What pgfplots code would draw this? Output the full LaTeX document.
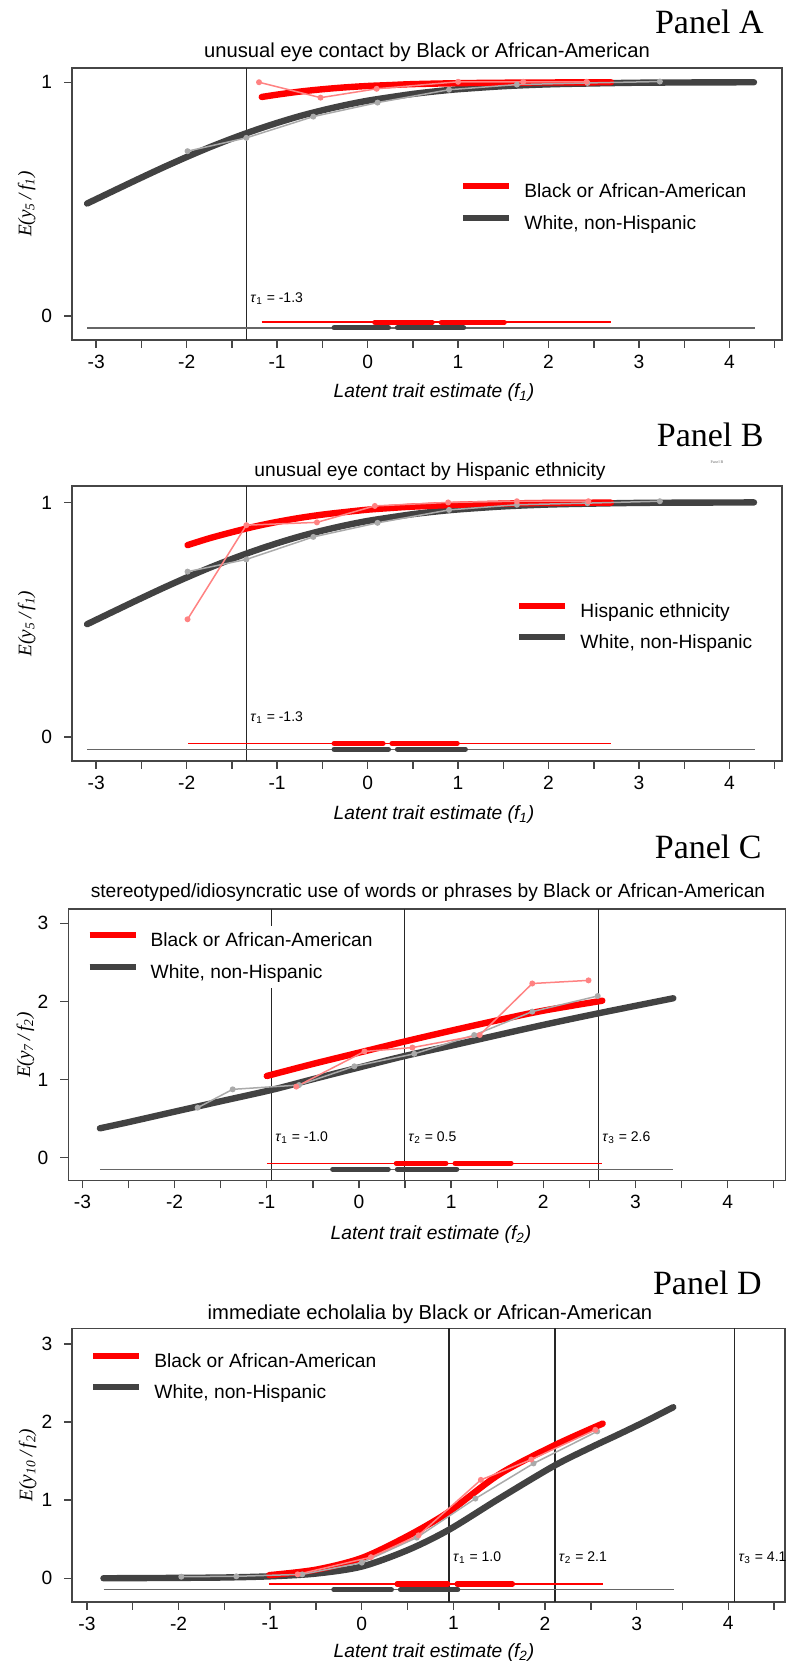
\documentclass[border=0pt]{standalone}
\usepackage{pgfplots}
\pgfplotsset{compat=1.18}
\usepackage{fontspec}
\setmainfont{Liberation Sans}
\newfontfamily\seriffam{Liberation Serif}
\definecolor{sred}{RGB}{255,0,0}
\definecolor{sdark}{RGB}{66,66,66}
\definecolor{lred}{RGB}{255,130,130}
\definecolor{lgray}{RGB}{170,170,170}
\definecolor{frm}{RGB}{70,70,70}
\newcommand{\fs}{\fontsize{9.6}{11.5}\selectfont}
\newcommand{\fsb}{\fontsize{10.1}{12}\selectfont}
\newcommand{\ts}{\fontsize{7}{8}\selectfont}
\pgfplotsset{
 panel/.style={scale only axis, anchor=south west, clip=false,
   axis line style={frm, line width=0.8pt},
   tick style={frm, line width=0.7pt},
   tick align=outside, major tick length=4pt, minor tick length=4pt,
   xtick pos=bottom, ytick pos=left,
   tick label style={font=\fs},
   yticklabel style={xshift=-2.5pt},
   /pgf/number format/assume math mode=true,
   xtick={-3,-2,-1,0,1,2,3,4}, xticklabels={-3,-2,-1,0,1,2,3,4},
   minor xtick={-2.5,-1.5,-0.5,0.5,1.5,2.5,3.5,4.5},
   legend cell align=left,
   legend image code/.code={\draw[##1, line width=3pt] (0pt,3.3pt) -- (23pt,3.3pt);},
   legend style={draw=none, fill=white, inner sep=3pt, font=\fs, row sep=6.4pt, column sep=6pt,
     nodes={inner sep=0pt, text height=7pt, text depth=2pt}, anchor=west},
 },
 thickr/.style={sred, line width=3.2pt, line cap=round, smooth, forget plot},
 thickd/.style={sdark, line width=3.2pt, line cap=round, smooth, forget plot},
 empr/.style={lred, line width=0.75pt, mark=*, mark size=1.1pt, mark options={solid, fill=lred, draw=lred}, forget plot},
 empg/.style={lgray, line width=0.75pt, mark=*, mark size=1.1pt, mark options={solid, fill=lgray, draw=lgray}, forget plot},
 tau/.style={black!85, line width=0.7pt, forget plot},
 thinr/.style={sred, line width=0.75pt, forget plot},
 thind/.style={black!60, line width=0.75pt, forget plot},
 barr/.style={sred, line width=2.6pt, line cap=round, forget plot},
 bard/.style={sdark, line width=2.6pt, line cap=round, forget plot},
}
\begin{document}
\begin{tikzpicture}
\useasboundingbox (0,0) rectangle (394.5pt,833.5pt);
% ---------------- Panel A
\node[anchor=east, font=\seriffam\fontsize{17}{20}\selectfont, inner sep=0pt] at (382pt,822.6pt) {Panel A};
\node[font=\fsb] at (213.5pt,807.5pt) {unusual eye contact by Black or African-American};
\node[font=\fs\itshape] at (217pt,637pt) {Latent trait estimate (f\textsubscript{1})};
\node[rotate=90, font=\seriffam\fs\itshape] at (13.3pt,731.5pt) {E(y\textsubscript{5}\,/\,f\textsubscript{1})};
\begin{axis}[panel, at={(36pt,663.5pt)}, width=355pt, height=136pt,
  xmin=-3.267, xmax=4.58, ymin=-0.103, ymax=1.061, ytick={0,1},
  legend style={at={(0.538,0.484)}}]
\addlegendimage{sred}\addlegendentry{Black or African-American}
\addlegendimage{sdark}\addlegendentry{White, non-Hispanic}
\addplot[tau] coordinates {(-1.34,-0.103) (-1.34,1.061)};
\addplot[thickd] coordinates {(-3.1,0.481)(-2.75,0.546)(-2.5,0.592)(-2.25,0.637)(-2,0.680)(-1.75,0.721)(-1.5,0.759)(-1.25,0.794)(-1,0.826)(-0.75,0.855)(-0.5,0.880)(-0.25,0.902)(0,0.921)(0.25,0.936)(0.5,0.950)(0.75,0.961)(1,0.970)(1.5,0.983)(2,0.991)(2.5,0.995)(3,0.998)(3.5,0.999)(4.27,1.0)};
\addplot[thickr] coordinates {(-1.17,0.937)(-1,0.947)(-0.75,0.960)(-0.5,0.970)(-0.25,0.978)(0,0.984)(0.25,0.988)(0.5,0.992)(1,0.996)(1.5,0.998)(2,0.999)(2.69,1.0)};
\addplot[empg] coordinates {(-1.99,0.705)(-1.34,0.762)(-0.6,0.853)(0.11,0.913)(0.9,0.968)(1.65,0.99)(2.43,0.997)(3.23,1.003)};
\addplot[empr] coordinates {(-1.2,1.0)(-0.52,0.934)(0.1,0.972)(1.0,1.002)(1.72,1.002)(2.42,1.002)};
\addplot[thind] coordinates {(-3.10,-0.051)(4.28,-0.051)};
\addplot[thinr] coordinates {(-1.17,-0.027)(2.686,-0.027)};
\addplot[bard] coordinates {(-0.37,-0.051)(0.23,-0.051)};
\addplot[bard] coordinates {(0.33,-0.051)(1.06,-0.051)};
\addplot[barr] coordinates {(0.08,-0.027)(0.714,-0.027)};
\addplot[barr] coordinates {(0.814,-0.027)(1.51,-0.027)};
\node[anchor=west, font=\ts, inner sep=0pt, xshift=1.8pt] at (axis cs:-1.34,0.076) {\textit{τ}\textsubscript{1} = -1.3};
\end{axis}
% ---------------- Panel B
\node[anchor=east, font=\seriffam\fontsize{17}{20}\selectfont, inner sep=0pt] at (382pt,616pt) {Panel B};
\node[anchor=center, font=\seriffam\fontsize{2}{2.4}\selectfont, text=black!60] at (358.5pt,602.2pt) {Panel B};
\node[font=\fs] at (215pt,597.6pt) {unusual eye contact by Hispanic ethnicity};
\node[font=\fs\itshape] at (217pt,426pt) {Latent trait estimate (f\textsubscript{1})};
\node[rotate=90, font=\seriffam\fs\itshape] at (13.3pt,521.7pt) {E(y\textsubscript{5}\,/\,f\textsubscript{1})};
\begin{axis}[panel, at={(36pt,453pt)}, width=355pt, height=137.5pt,
  xmin=-3.267, xmax=4.58, ymin=-0.102, ymax=1.07, ytick={0,1},
  legend style={at={(0.617,0.485)}}]
\addlegendimage{sred}\addlegendentry{Hispanic ethnicity}
\addlegendimage{sdark}\addlegendentry{White, non-Hispanic}
\addplot[tau] coordinates {(-1.34,-0.102) (-1.34,1.07)};
\addplot[thickd] coordinates {(-3.1,0.481)(-2.75,0.546)(-2.5,0.592)(-2.25,0.637)(-2,0.680)(-1.75,0.721)(-1.5,0.759)(-1.25,0.794)(-1,0.826)(-0.75,0.855)(-0.5,0.880)(-0.25,0.902)(0,0.921)(0.25,0.936)(0.5,0.950)(0.75,0.961)(1,0.970)(1.5,0.983)(2,0.991)(2.5,0.995)(3,0.998)(3.5,0.999)(4.27,1.0)};
\addplot[thickr] coordinates {(-1.99,0.818)(-1.75,0.847)(-1.5,0.873)(-1.25,0.897)(-1,0.917)(-0.75,0.934)(-0.5,0.948)(-0.25,0.959)(0,0.969)(0.25,0.976)(0.5,0.982)(1,0.990)(1.5,0.995)(2,0.998)(2.69,0.999)};
\addplot[empg] coordinates {(-1.99,0.705)(-1.34,0.757)(-0.6,0.853)(0.11,0.913)(0.9,0.968)(1.65,0.99)(2.43,0.997)(3.23,1.005)};
\addplot[empr] coordinates {(-1.99,0.502)(-1.34,0.903)(-0.56,0.915)(0.08,0.985)(0.89,1.0)(1.65,1.005)(2.44,1.005)};
\addplot[thind] coordinates {(-3.10,-0.052)(4.28,-0.052)};
\addplot[thinr] coordinates {(-1.98,-0.027)(2.686,-0.027)};
\addplot[bard] coordinates {(-0.37,-0.052)(0.23,-0.052)};
\addplot[bard] coordinates {(0.33,-0.052)(1.08,-0.052)};
\addplot[barr] coordinates {(-0.37,-0.027)(0.17,-0.027)};
\addplot[barr] coordinates {(0.27,-0.027)(0.99,-0.027)};
\node[anchor=west, font=\ts, inner sep=0pt, xshift=1.8pt] at (axis cs:-1.34,0.083) {\textit{τ}\textsubscript{1} = -1.3};
\end{axis}
% ---------------- Panel C
\node[anchor=east, font=\seriffam\fontsize{17}{20}\selectfont, inner sep=0pt] at (381pt,410pt) {Panel C};
\node[font=\fs] at (214pt,387pt) {stereotyped/idiosyncratic use of words or phrases by Black or African-American};
\node[font=\fs\itshape] at (215.5pt,216pt) {Latent trait estimate (f\textsubscript{2})};
\node[rotate=90, font=\seriffam\fs\itshape] at (12.7pt,311pt) {E(y\textsubscript{7}\,/\,f\textsubscript{2})};
\begin{axis}[panel, at={(34.15pt,243.25pt)}, width=358.5pt, height=135.6pt,
  xmin=-3.153, xmax=4.625, ymin=-0.292, ymax=3.18, ytick={0,1,2,3},
  legend style={at={(0.0167,0.823)}}]
\addlegendimage{sred}\addlegendentry{Black or African-American}
\addlegendimage{sdark}\addlegendentry{White, non-Hispanic}
\addplot[tau] coordinates {(-0.95,-0.292) (-0.95,3.18)};
\addplot[tau] coordinates {(0.493,-0.292) (0.493,3.18)};
\addplot[tau] coordinates {(2.597,-0.292) (2.597,3.18)};
\addplot[thickd] coordinates {(-2.81,0.376)(-2.5,0.455)(-2,0.589)(-1.5,0.722)(-0.95,0.867)(-0.5,1.005)(0,1.155)(0.49,1.300)(1,1.434)(1.5,1.568)(2,1.70)(2.6,1.849)(3.41,2.041)};
\addplot[thickr] coordinates {(-1.0,1.046)(-0.5,1.20)(0,1.345)(0.49,1.486)(1,1.626)(1.5,1.758)(2,1.882)(2.64,2.01)};
\addplot[empg] coordinates {(-1.75,0.64)(-1.37,0.875)(-0.65,0.93)(-0.05,1.17)(0.6,1.33)(1.25,1.57)(1.88,1.87)(2.59,2.07)};
\addplot[empr] coordinates {(-0.68,0.91)(0.06,1.36)(0.58,1.41)(1.31,1.57)(1.88,2.23)(2.49,2.27)};
\addplot[thind] coordinates {(-2.81,-0.149)(3.41,-0.149)};
\addplot[thinr] coordinates {(-1.0,-0.072)(2.64,-0.072)};
\addplot[bard] coordinates {(-0.285,-0.149)(0.317,-0.149)};
\addplot[bard] coordinates {(0.417,-0.149)(1.06,-0.149)};
\addplot[barr] coordinates {(0.405,-0.072)(0.943,-0.072)};
\addplot[barr] coordinates {(1.043,-0.072)(1.65,-0.072)};
\node[anchor=west, font=\ts, inner sep=0pt, xshift=1.8pt] at (axis cs:-0.95,0.256) {\textit{τ}\textsubscript{1} = -1.0};
\node[anchor=west, font=\ts, inner sep=0pt, xshift=1.8pt] at (axis cs:0.493,0.256) {\textit{τ}\textsubscript{2} = 0.5};
\node[anchor=west, font=\ts, inner sep=0pt, xshift=1.8pt] at (axis cs:2.597,0.256) {\textit{τ}\textsubscript{3} = 2.6};
\end{axis}
% ---------------- Panel D
\node[anchor=east, font=\seriffam\fontsize{17}{20}\selectfont, inner sep=0pt] at (381pt,192pt) {Panel D};
\node[font=\fsb] at (215pt,176.5pt) {immediate echolalia by Black or African-American};
\node[font=\fs\itshape] at (217pt,7pt) {Latent trait estimate (f\textsubscript{2})};
\node[rotate=90, font=\seriffam\fs\itshape] at (13.9pt,101pt) {E(y\textsubscript{10}\,/\,f\textsubscript{2})};
\begin{axis}[panel, at={(36.15pt,32.65pt)}, width=356.35pt, height=136.7pt,
  xmin=-3.16, xmax=4.62, ymin=-0.30, ymax=3.20, ytick={0,1,2,3},
  legend style={at={(0.0164,0.819)}}]
\addlegendimage{sred}\addlegendentry{Black or African-American}
\addlegendimage{sdark}\addlegendentry{White, non-Hispanic}
\addplot[tau] coordinates {(0.954,-0.30) (0.954,3.20)};
\addplot[tau] coordinates {(2.108,-0.30) (2.108,3.20)};
\addplot[tau] coordinates {(4.069,-0.30) (4.069,3.20)};
\addplot[thickd] coordinates {(-2.82,0.0)(-2,0.005)(-1.5,0.01)(-1,0.025)(-0.5,0.06)(0,0.15)(0.5,0.36)(0.95,0.62)(1.5,1.02)(2.1,1.44)(2.5,1.675)(2.8,1.84)(3.1,2.01)(3.4,2.19)};
\addplot[thickr] coordinates {(-1.01,0.04)(-0.5,0.11)(0,0.26)(0.5,0.54)(0.95,0.85)(1.5,1.33)(2.1,1.70)(2.63,1.98)};
\addplot[empg] coordinates {(-1.97,0.02)(-1.37,0.025)(-0.65,0.05)(0.0,0.2)(0.6,0.52)(1.24,1.02)(1.875,1.47)(2.57,1.88)};
\addplot[empr] coordinates {(-0.7,0.05)(0.1,0.27)(0.62,0.55)(1.3,1.26)(1.85,1.52)(2.55,1.9)};
\addplot[thind] coordinates {(-2.818,-0.146)(3.405,-0.146)};
\addplot[thinr] coordinates {(-1.013,-0.073)(2.633,-0.073)};
\addplot[bard] coordinates {(-0.305,-0.146)(0.323,-0.146)};
\addplot[bard] coordinates {(0.423,-0.146)(1.047,-0.146)};
\addplot[barr] coordinates {(0.385,-0.073)(0.94,-0.073)};
\addplot[barr] coordinates {(1.04,-0.073)(1.645,-0.073)};
\node[anchor=west, font=\ts, inner sep=0pt, xshift=1.8pt] at (axis cs:0.954,0.264) {\textit{τ}\textsubscript{1} = 1.0};
\node[anchor=west, font=\ts, inner sep=0pt, xshift=1.8pt] at (axis cs:2.108,0.264) {\textit{τ}\textsubscript{2} = 2.1};
\node[anchor=west, font=\ts, inner sep=0pt, xshift=1.8pt] at (axis cs:4.069,0.264) {\textit{τ}\textsubscript{3} = 4.1};
\end{axis}
\end{tikzpicture}
\end{document}
